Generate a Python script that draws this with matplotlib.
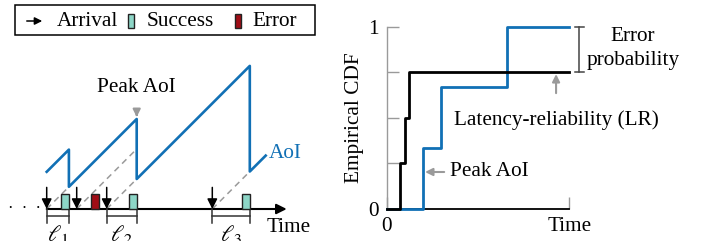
import matplotlib

matplotlib.use('Agg')
import matplotlib.pyplot as plt
import matplotlib.transforms as mtransforms
from matplotlib.patches import Rectangle, FancyArrowPatch

# left panel: times in slot units (arrival -> delivery)
success_arrivals = [0.0, 2.0, 5.52]
success_deliveries = [0.74, 3.0, 6.77]
error_arrival = 1.0
error_end = 1.75
aoi_start_age = 1.24
aoi_end_time = 7.3
latency_labels = [r'$\ell_1$', r'$\ell_2$', r'$\ell_3$']

# right panel: empirical CDFs
lr_latencies = [0.74, 1.0, 1.25]
lr_levels = [0.25, 0.5, 0.75]
peak_aoi_values = [2.03, 3.02, 6.7]
peak_aoi_levels = [1 / 3, 2 / 3, 1.0]
cdf_xmax = 10.14

BLUE = '#1170b5'
TEAL = '#8dd6c7'
RED = '#a00d16'
GRAY = '#9a9a9a'
FS = 15.3

plt.rcParams['font.family'] = ['Liberation Serif', 'DejaVu Serif']
plt.rcParams['mathtext.fontset'] = 'stix'
plt.rcParams['font.size'] = FS

W, H = 702, 241
fig = plt.figure(figsize=(W / 100, H / 100), dpi=100)
pxT = mtransforms.Affine2D().scale(1 / W, -1 / H).translate(0, 1) + fig.transFigure

# ---------------- left panel ----------------
U = 30.0  # px per unit
X0, Y0 = 46.7, 209.0
ax = fig.add_axes([0, 0, 340 / W, 1])
ax.set_xlim(-X0 / U, (340 - X0) / U)
ax.set_ylim((Y0 - H) / U, Y0 / U)
ax.axis('off')

# dashed age lines
for a, d in zip(success_arrivals, success_deliveries):
    ax.plot([a, d], [0, d - a], color=GRAY, lw=1.1, ls=(0, (4, 3)), zorder=1)
ax.plot([error_arrival, success_deliveries[1]], [0, success_deliveries[1] - error_arrival],
        color=GRAY, lw=1.1, ls=(0, (4, 3)), zorder=1)

# AoI sawtooth
last_arr = -aoi_start_age
xs, ys = [0.0], [aoi_start_age]
for a, d in zip(success_arrivals, success_deliveries):
    xs += [d, d]
    ys += [d - last_arr, d - a]
    last_arr = a
xs.append(aoi_end_time)
ys.append(aoi_end_time - last_arr)
ax.plot(xs, ys, color=BLUE, lw=1.9, zorder=3)
ax.text((269 - X0) / U, (Y0 - 153) / U, 'AoI', color=BLUE, ha='left', va='center')

# packet boxes
bw, bh = 8 / U, 15 / U
for d in success_deliveries:
    ax.add_patch(Rectangle((d - bw, 0), bw, bh, facecolor=TEAL, edgecolor='#222222', lw=1, zorder=4))
ax.add_patch(Rectangle((error_end - bw, 0), bw, bh, facecolor=RED, edgecolor='#222222', lw=1, zorder=4))

# arrival arrows
for a in sorted(success_arrivals + [error_arrival]):
    ax.annotate('', xy=(a, 0), xytext=(a, 0.72),
                arrowprops=dict(arrowstyle='-|>', color='black', lw=1.1, mutation_scale=15,
                                shrinkA=0, shrinkB=0), zorder=5)

# time axis
ax.annotate('', xy=((286.7 - X0) / U, 0), xytext=(0, 0),
            arrowprops=dict(arrowstyle='-|>', color='black', lw=1.5, mutation_scale=15,
                            shrinkA=0, shrinkB=0), zorder=2)
ax.text(-6 / U, 0, '·  ·  ·', ha='right', va='center', fontsize=12)
ax.text((288.3 - X0) / U, (Y0 - 228) / U, 'Time', ha='center', va='center')

# latency brackets
for a, d, lab in zip(success_arrivals, success_deliveries, latency_labels):
    ax.plot([a, d], [-7 / U, -7 / U], color='#333333', lw=1.1, clip_on=False)
    for t in (a, d):
        ax.plot([t, t], [0, -14 / U], color='#333333', lw=1.1, clip_on=False)
    ax.text((a + d) / 2, (Y0 - 235) / U, lab, ha='center', va='center', fontsize=FS + 1)

# peak AoI pointer
pk = success_deliveries[1]
ax.annotate('Peak AoI', xy=(pk, pk - success_arrivals[0] + 2 / U), xytext=(pk, (Y0 - 87) / U),
            ha='center', va='center',
            arrowprops=dict(arrowstyle='-|>', color=GRAY, lw=1.5, mutation_scale=11,
                            shrinkA=10, shrinkB=0))

# legend box
fig.add_artist(Rectangle((15, 5), 300, 30, transform=pxT, facecolor='white',
                         edgecolor='black', lw=1.1))
fig.add_artist(FancyArrowPatch((24, 21), (45, 21), transform=pxT,
                               arrowstyle='-|>', mutation_scale=11,
                               color='black', lw=1.1))
fig.text(56.7, 21, 'Arrival', transform=pxT, va='center', ha='left')
fig.add_artist(Rectangle((128.3, 14), 6, 14, transform=pxT, facecolor=TEAL,
                         edgecolor='#222222', lw=1))
fig.text(146.7, 21, 'Success', transform=pxT, va='center', ha='left')
fig.add_artist(Rectangle((234.5, 14), 6, 14, transform=pxT, facecolor=RED,
                         edgecolor='#222222', lw=1))
fig.text(252, 21, 'Error', transform=pxT, va='center', ha='left')

# ---------------- right panel ----------------
L, R_, T, B = 386.7, 569.3, 26.7, 209.0
ax2 = fig.add_axes([L / W, (H - B) / H, (R_ - L) / W, (B - T) / H])
ax2.set_xlim(0, cdf_xmax)
ax2.set_ylim(0, 1)
for s in ('top', 'right'):
    ax2.spines[s].set_visible(False)
ax2.spines['left'].set_color(GRAY)
ax2.spines['left'].set_linewidth(1.0)
ax2.spines['bottom'].set_color('black')
ax2.spines['bottom'].set_linewidth(1.3)

ax2.plot([0] + peak_aoi_values + [cdf_xmax], [0] + peak_aoi_levels + [peak_aoi_levels[-1]],
         drawstyle='steps-post', color=BLUE, lw=2, clip_on=False, zorder=3)
ax2.plot([0] + lr_latencies + [cdf_xmax], [0] + lr_levels + [lr_levels[-1]],
         drawstyle='steps-post', color='black', lw=2, clip_on=False, zorder=4)

ax2.set_yticks([0, 0.25, 0.5, 0.75, 1])
ax2.set_yticklabels(['0', '', '', '', '1'])
ax2.set_xticks([0, cdf_xmax])
ax2.set_xticklabels(['0', 'Time'])
ax2.tick_params(axis='both', direction='in', length=8.6, width=1, color=GRAY,
                labelsize=FS, pad=6)
ax2.set_ylabel('Empirical CDF', labelpad=3)

# error probability bracket
bx = (579.3 - L) / 18
ax2.plot([bx, bx], [lr_levels[-1], 1], color='#444444', lw=1.1, clip_on=False)
for yy in (lr_levels[-1], 1):
    ax2.plot([bx - 0.25, bx + 0.25], [yy, yy], color='#444444', lw=1.1, clip_on=False)
ax2.text((633 - L) / 18, 0.88, 'Error\nprobability', ha='center', va='center',
         linespacing=1.3)

ax2.annotate('Latency-reliability (LR)', xy=((556 - L) / 18, lr_levels[-1] - 0.01),
             xytext=((556 - L) / 18, 0.49), ha='center', va='center',
             arrowprops=dict(arrowstyle='-|>', color=GRAY, lw=1.5, mutation_scale=11,
                             shrinkA=10, shrinkB=0))
ax2.annotate('Peak AoI', xy=(peak_aoi_values[0] + 0.1, 0.203), xytext=(3.5, 0.203),
             ha='left', va='center',
             arrowprops=dict(arrowstyle='-|>', color=GRAY, lw=1.5, mutation_scale=11,
                             shrinkA=2, shrinkB=0))

fig.savefig('out.png', dpi=100)
